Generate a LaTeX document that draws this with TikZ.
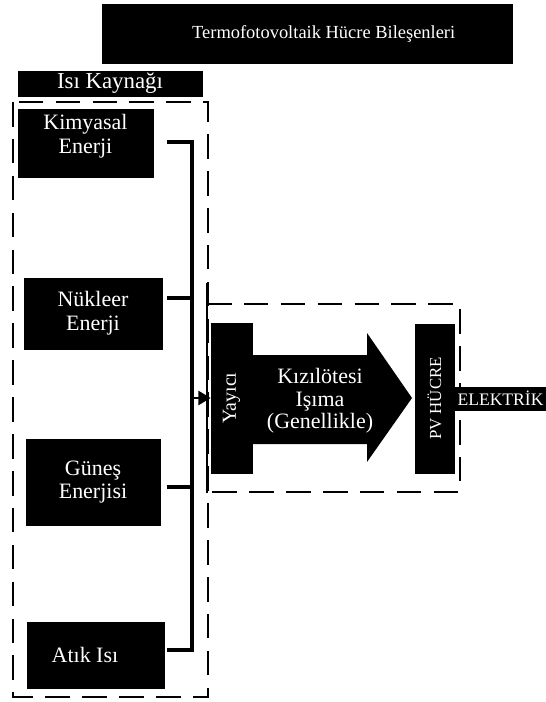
\documentclass[tikz,border=0pt]{standalone}
\usepackage{fontspec}
\setmainfont{Liberation Serif}
\usetikzlibrary{arrows.meta,positioning,calc}
\tikzset{
  blackbox/.style={draw=black, fill=black, text=white, inner sep=1pt, align=center},
  srcbox/.style={blackbox, font=\fontsize{12.5}{13.5}\selectfont},
  framebox/.style={dash pattern=on 14pt off 7pt, line width=1.5pt},
  feedline/.style={line width=2.8pt, line join=miter},
}

\begin{document}
\begin{tikzpicture}[x=0.02cm, y=-0.02cm]
        \useasboundingbox (0,0) rectangle (546,702);
        \node[blackbox, minimum width=8.2cm, minimum height=1.18cm, font=\fontsize{10.5}{12}\selectfont] (title) at (307,33.5) {\hspace*{19pt}Termofotovoltaik Hücre Bileşenleri};
        \node[blackbox, minimum width=3.68cm, minimum height=0.5cm, font=\fontsize{13}{14}\selectfont] (isi) at (110,83.5) {Isı Kaynağı};
        \draw[framebox] (13,102) rectangle (208,697);
        \node[srcbox, minimum width=2.7cm, minimum height=1.36cm, text depth=10pt] (kimya) at (85.5,143) {Kimyasal\\Enerji};
        \node[srcbox, minimum width=2.76cm, minimum height=1.42cm] (nukleer) at (93,313.5) {Nükleer\\Enerji};
        \node[srcbox, minimum width=2.68cm, minimum height=1.72cm] (gunes) at (93,482) {Güneş\\Enerjisi};
        \node[srcbox, minimum width=2.74cm, minimum height=1.32cm] (atik) at (95.5,655) {Atık Isı\hspace*{12pt}};
        \coordinate (bus) at (192,0);
        \coordinate (stubk) at (167,142);
        \coordinate (stubn) at (167,298);
        \coordinate (stubg) at (167,487);
        \coordinate (stuba) at (167,650);
        \coordinate (tap) at (192,398);
        \draw[feedline] (stubk) -- (stubk -| bus) -- (stuba -| bus) -- (stuba);
        \draw[feedline] (stubn) -- (stubn -| bus);
        \draw[feedline] (stubg) -- (stubg -| bus);
        \draw[framebox] (207,304) -- (460,304) -- (460,492) -- (207,492);
        \draw[line width=1.5pt] (207,283) -- (207,493);
        \node[blackbox, rotate=90, minimum width=3cm, minimum height=0.82cm, font=\fontsize{11.3}{12}\selectfont] (yayici) at (231.5,398) {Yayıcı};
        \draw[line width=1.3pt, -{Triangle[length=7pt, width=8pt]}] (tap) -- (yayici.north |- tap);
        \fill (252,355) -- (367,355) -- (367,333) -- (412,398) -- (367,462) -- (367,444) -- (252,444) -- cycle;
        \node[text=white, align=center, font=\fontsize{12.5}{12.8}\selectfont] (kizil) at (320,401) {Kızılötesi\\Işıma\\(Genellikle)};
        \node[blackbox, rotate=90, minimum width=2.98cm, minimum height=0.78cm, font=\fontsize{9.6}{11}\selectfont] (pv) at (434.5,398.5) {PV HÜCRE};
        \node[blackbox, minimum width=1.82cm, minimum height=0.46cm, inner sep=0pt, font=\fontsize{10}{11}\selectfont] (elek) at (500.5,398.5) {ELEKTRİK};
      \end{tikzpicture}
\end{document}
